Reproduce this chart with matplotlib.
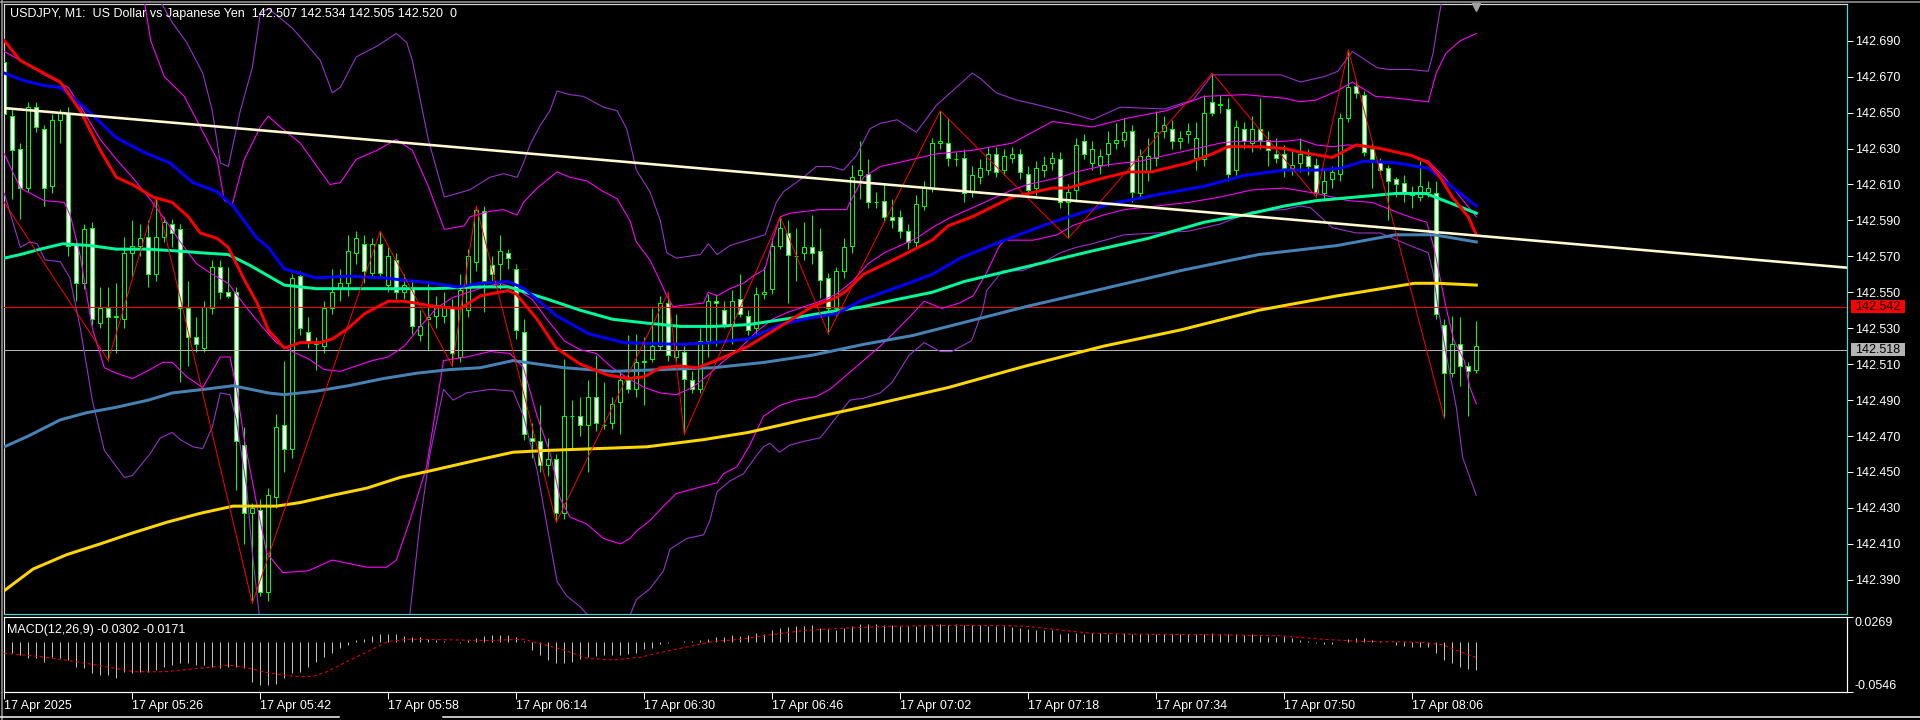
import numpy as np
import matplotlib
matplotlib.use("Agg")
import matplotlib.pyplot as plt
from matplotlib.patches import Rectangle
from matplotlib.lines import Line2D
from matplotlib.transforms import blended_transform_factory

plt.rcParams["font.family"] = ["Liberation Sans", "DejaVu Sans"]

# ---------------- USDJPY M1 bars, 17 Apr 05:10 .. 08:14 ----------------
opens = [
    142.678, 142.648, 142.630, 142.608, 142.653, 142.641, 142.609, 142.646, 142.650, 142.577,
    142.555, 142.586, 142.533, 142.541, 142.537, 142.535, 142.572, 142.576, 142.581, 142.560,
    142.581, 142.588, 142.585, 142.541, 142.525, 142.519, 142.541, 142.564, 142.550, 142.550,
    142.465, 142.427, 142.429, 142.383, 142.436, 142.476, 142.463, 142.559, 142.528, 142.522,
    142.520, 142.541, 142.552, 142.555, 142.572, 142.577, 142.561, 142.577, 142.554, 142.568,
    142.550, 142.552, 142.526, 142.535, 142.537, 142.537, 142.542, 142.514, 142.540, 142.567,
    142.595, 142.565, 142.566, 142.572, 142.563, 142.528, 142.469, 142.467, 142.454, 142.457,
    142.427, 142.481, 142.481, 142.476, 142.492, 142.476, 142.477, 142.489, 142.501, 142.496,
    142.511, 142.513, 142.520, 142.544, 142.514, 142.517, 142.501, 142.496, 142.523, 142.545,
    142.540, 142.532, 142.546, 142.537, 142.530, 142.549, 142.552, 142.576, 142.583, 142.570,
    142.572, 142.575, 142.573, 142.558, 142.541, 142.562, 142.576, 142.615, 142.616, 142.600,
    142.601, 142.592, 142.592, 142.584, 142.578, 142.598, 142.608, 142.633, 142.633, 142.624,
    142.625, 142.606, 142.614, 142.618, 142.627, 142.618, 142.625, 142.627, 142.616, 142.608,
    142.618, 142.622, 142.624, 142.600, 142.607, 142.634, 142.622, 142.621, 142.627, 142.633,
    142.635, 142.640, 142.605, 142.617, 142.625, 142.640, 142.641, 142.634, 142.638, 142.625,
    142.624, 142.656, 142.655, 142.652, 142.618, 142.641, 142.633, 142.641, 142.635, 142.627,
    142.627, 142.619, 142.622, 142.626, 142.621, 142.605, 142.613, 142.616, 142.647, 142.665,
    142.660, 142.630, 142.623, 142.619, 142.613, 142.611, 142.605, 142.603, 142.606, 142.605,
    142.532, 142.505, 142.521, 142.509, 142.507,
]
highs = [
    142.681, 142.652, 142.633, 142.656, 142.656, 142.643, 142.649, 142.652, 142.653, 142.580,
    142.588, 142.589, 142.553, 142.553, 142.555, 142.581, 142.590, 142.588, 142.590, 142.603,
    142.592, 142.591, 142.588, 142.556, 142.536, 142.545, 142.568, 142.568, 142.564, 142.553,
    142.475, 142.433, 142.435, 142.441, 142.482, 142.512, 142.560, 142.562, 142.536, 142.525,
    142.545, 142.563, 142.563, 142.582, 142.584, 142.582, 142.580, 142.584, 142.575, 142.572,
    142.560, 142.556, 142.540, 142.555, 142.548, 142.550, 142.546, 142.560, 142.574, 142.598,
    142.598, 142.570, 142.582, 142.574, 142.566, 142.535, 142.477, 142.487, 142.469, 142.460,
    142.513, 142.490, 142.492, 142.501, 142.515, 142.500, 142.492, 142.506, 142.526, 142.527,
    142.525, 142.541, 142.548, 142.550, 142.538, 142.520, 142.506, 142.530, 142.549, 142.549,
    142.545, 142.551, 142.560, 142.540, 142.553, 142.564, 142.580, 142.592, 142.590, 142.586,
    142.589, 142.593, 142.586, 142.561, 142.564, 142.580, 142.621, 142.634, 142.624, 142.606,
    142.610, 142.602, 142.596, 142.588, 142.604, 142.612, 142.636, 142.651, 142.647, 142.628,
    142.630, 142.620, 142.624, 142.631, 142.631, 142.630, 142.631, 142.630, 142.620, 142.623,
    142.626, 142.628, 142.628, 142.610, 142.636, 142.638, 142.634, 142.630, 142.640, 142.644,
    142.647, 142.643, 142.630, 142.636, 142.651, 142.648, 142.646, 142.640, 142.644, 142.645,
    142.660, 142.672, 142.660, 142.658, 142.646, 142.645, 142.648, 142.658, 142.640, 142.636,
    142.632, 142.630, 142.636, 142.630, 142.625, 142.618, 142.620, 142.650, 142.685, 142.668,
    142.662, 142.633, 142.625, 142.621, 142.614, 142.615, 142.609, 142.623, 142.612, 142.612,
    142.535, 142.537, 142.536, 142.511, 142.534,
]
lows = [
    142.646, 142.602, 142.591, 142.606, 142.639, 142.598, 142.605, 142.633, 142.570, 142.545,
    142.552, 142.532, 142.530, 142.512, 142.516, 142.530, 142.559, 142.570, 142.553, 142.556,
    142.578, 142.575, 142.500, 142.509, 142.517, 142.517, 142.538, 142.546, 142.547, 142.440,
    142.410, 142.377, 142.381, 142.378, 142.430, 142.450, 142.458, 142.526, 142.519, 142.507,
    142.516, 142.538, 142.545, 142.548, 142.566, 142.555, 142.558, 142.558, 142.550, 142.546,
    142.546, 142.527, 142.523, 142.518, 142.530, 142.533, 142.509, 142.511, 142.536, 142.562,
    142.539, 142.556, 142.552, 142.563, 142.524, 142.468, 142.458, 142.450, 142.448, 142.422,
    142.424, 142.463, 142.470, 142.450, 142.473, 142.474, 142.474, 142.471, 142.494, 142.492,
    142.487, 142.511, 142.518, 142.512, 142.512, 142.471, 142.494, 142.494, 142.514, 142.520,
    142.530, 142.521, 142.536, 142.526, 142.527, 142.546, 142.549, 142.574, 142.544, 142.556,
    142.568, 142.566, 142.547, 142.527, 142.537, 142.558, 142.572, 142.602, 142.597, 142.597,
    142.589, 142.586, 142.580, 142.574, 142.575, 142.596, 142.606, 142.630, 142.620, 142.620,
    142.600, 142.603, 142.610, 142.615, 142.614, 142.615, 142.622, 142.613, 142.604, 142.604,
    142.614, 142.618, 142.597, 142.580, 142.600, 142.624, 142.618, 142.616, 142.620, 142.630,
    142.631, 142.600, 142.602, 142.612, 142.620, 142.636, 142.630, 142.630, 142.633, 142.618,
    142.620, 142.648, 142.650, 142.612, 142.615, 142.630, 142.628, 142.630, 142.620, 142.622,
    142.614, 142.615, 142.617, 142.615, 142.603, 142.601, 142.608, 142.612, 142.645, 142.658,
    142.626, 142.608, 142.616, 142.590, 142.603, 142.600, 142.597, 142.601, 142.603, 142.535,
    142.480, 142.503, 142.498, 142.481, 142.505,
]
closes = [
    142.649, 142.629, 142.608, 142.653, 142.642, 142.608, 142.646, 142.650, 142.576, 142.555,
    142.585, 142.535, 142.541, 142.536, 142.536, 142.572, 142.576, 142.580, 142.560, 142.581,
    142.589, 142.583, 142.541, 142.525, 142.521, 142.542, 142.564, 142.550, 142.548, 142.467,
    142.427, 142.430, 142.383, 142.437, 142.475, 142.463, 142.558, 142.530, 142.522, 142.521,
    142.541, 142.550, 142.555, 142.573, 142.580, 142.562, 142.577, 142.561, 142.570, 142.550,
    142.554, 142.531, 142.531, 142.536, 142.543, 142.542, 142.516, 142.551, 142.570, 142.596,
    142.556, 142.560, 142.573, 142.569, 142.529, 142.471, 142.467, 142.454, 142.457, 142.427,
    142.481, 142.481, 142.476, 142.492, 142.477, 142.476, 142.488, 142.501, 142.496, 142.511,
    142.512, 142.520, 142.544, 142.515, 142.518, 142.502, 142.496, 142.523, 142.545, 142.544,
    142.532, 142.545, 142.538, 142.529, 142.549, 142.550, 142.576, 142.586, 142.571, 142.570,
    142.575, 142.572, 142.557, 142.541, 142.562, 142.575, 142.614, 142.618, 142.600, 142.600,
    142.592, 142.590, 142.584, 142.578, 142.599, 142.608, 142.633, 142.634, 142.625, 142.624,
    142.605, 142.615, 142.619, 142.627, 142.617, 142.626, 142.627, 142.617, 142.607, 142.619,
    142.621, 142.625, 142.600, 142.606, 142.632, 142.627, 142.630, 142.626, 142.633, 142.635,
    142.639, 142.606, 142.626, 142.626, 142.639, 142.643, 142.634, 142.636, 142.640, 142.636,
    142.650, 142.650, 142.654, 142.616, 142.642, 142.634, 142.641, 142.635, 142.629, 142.625,
    142.619, 142.621, 142.627, 142.620, 142.606, 142.612, 142.617, 142.647, 142.664, 142.661,
    142.628, 142.624, 142.618, 142.612, 142.610, 142.605, 142.604, 142.609, 142.608, 142.538,
    142.505, 142.521, 142.509, 142.506, 142.520,
]

# ---------------- moving averages (bar index, price) ----------------
ema_red_x = [0, 2, 4.5, 7, 9.5, 12, 14, 16, 18.6, 21, 23, 24.5, 26.6, 28, 30, 31.6, 33, 35, 37, 39.5,
             41, 43, 45, 48, 50, 54, 57, 59.5, 63, 64, 66.6, 69, 72, 75.4, 78, 80, 82, 84.5, 86.6, 89,
             93, 97, 101, 104, 105.3, 107.4, 111.6, 116, 118, 121, 126, 131, 133, 136, 140.5, 143.4,
             148, 151, 153, 157, 160, 162, 166, 169, 172, 176, 178, 179.5, 181, 183, 184]
ema_red_y = [142.690, 142.679, 142.673, 142.667, 142.651, 142.629, 142.614, 142.610, 142.603, 142.600,
             142.592, 142.583, 142.580, 142.575, 142.557, 142.544, 142.529, 142.519, 142.522, 142.522,
             142.524, 142.530, 142.538, 142.545, 142.545, 142.542, 142.541, 142.548, 142.551, 142.549,
             142.535, 142.519, 142.510, 142.504, 142.502, 142.503, 142.508, 142.509, 142.508, 142.512,
             142.520, 142.531, 142.542, 142.547, 142.551, 142.560, 142.569, 142.579, 142.587, 142.592,
             142.603, 142.608, 142.608, 142.612, 142.617, 142.617, 142.622, 142.627, 142.631, 142.631,
             142.630, 142.628, 142.625, 142.632, 142.630, 142.626, 142.622, 142.614, 142.603, 142.592,
             142.582]
ema_blue_x = [0, 2.3, 5, 7, 10, 14, 17.4, 20.7, 23.6, 26.6, 28.6, 31.6, 33, 35, 39, 43, 47.4, 53.6,
              56.6, 59.5, 63, 65, 69, 73, 77.4, 84.5, 88.6, 93, 97, 101, 104, 107.4, 113, 116, 119.5,
              125, 131, 138, 145, 150, 155, 160, 164, 167, 170, 174, 178, 180, 182, 184]
ema_blue_y = [142.672, 142.668, 142.665, 142.664, 142.653, 142.636, 142.628, 142.622, 142.611, 142.606,
              142.598, 142.580, 142.575, 142.563, 142.558, 142.559, 142.558, 142.555, 142.553, 142.555,
              142.556, 142.552, 142.537, 142.527, 142.522, 142.521, 142.522, 142.524, 142.532, 142.536,
              142.538, 142.546, 142.555, 142.560, 142.569, 142.579, 142.589, 142.599, 142.605, 142.609,
              142.615, 142.618, 142.618, 142.619, 142.623, 142.622, 142.619, 142.612, 142.605, 142.598]
ema_green_x = [0, 2, 4.5, 7.3, 10.7, 14, 18, 21.6, 24.5, 28, 30.7, 35, 39, 43, 49.5, 53.6, 59.5, 63,
               68, 72, 76, 80, 84.5, 88.6, 93, 96, 99, 103, 107.4, 111.6, 116, 120, 128.5, 136, 143,
               150, 155, 160, 164, 169, 174, 177.7, 180, 184]
ema_green_y = [142.569, 142.571, 142.574, 142.577, 142.576, 142.574, 142.574, 142.573, 142.572, 142.571,
               142.565, 142.554, 142.552, 142.552, 142.552, 142.552, 142.553, 142.553, 142.546, 142.540,
               142.535, 142.533, 142.531, 142.531, 142.532, 142.534, 142.536, 142.539, 142.542, 142.546,
               142.550, 142.556, 142.565, 142.573, 142.580, 142.589, 142.593, 142.598, 142.601, 142.603,
               142.605, 142.605, 142.601, 142.594]
ema_steel_x = [0, 3, 7, 10.3, 14, 18, 21, 25, 28.6, 33, 35, 39, 43, 47.4, 51.6, 55.7, 59.5, 63.6, 70,
               76, 82.3, 88.6, 95, 101, 107.4, 113.6, 118, 127.7, 137.4, 147, 156.8, 166.6, 173.9,
               178.7, 184]
ema_steel_y = [142.464, 142.470, 142.479, 142.483, 142.486, 142.490, 142.494, 142.496, 142.498, 142.494,
               142.493, 142.495, 142.498, 142.502, 142.505, 142.507, 142.508, 142.512, 142.508, 142.506,
               142.507, 142.508, 142.511, 142.515, 142.521, 142.526, 142.531, 142.542, 142.552, 142.562,
               142.571, 142.576, 142.582, 142.582, 142.578]
ema_gold_x = [0, 3.6, 7.8, 12, 16, 20.3, 24.5, 28.6, 34, 37, 41, 45.3, 49.5, 53.6, 59.5, 63.6, 67.8,
              74, 80.3, 87.4, 93, 99.9, 108.2, 118, 127.7, 137.4, 147, 156.8, 166.6, 176.3, 179.2, 184]
ema_gold_y = [142.384, 142.396, 142.404, 142.410, 142.416, 142.422, 142.427, 142.431, 142.431, 142.433,
              142.437, 142.441, 142.447, 142.451, 142.457, 142.461, 142.462, 142.463, 142.464, 142.468,
              142.472, 142.479, 142.487, 142.497, 142.509, 142.520, 142.529, 142.540, 142.548, 142.555,
              142.555, 142.554]

# ---------------- Bollinger bands ----------------
bb_mid_x = [0, 2, 5, 8] + list(range(10, 185, 2))
bb_mid_y = [142.684, 142.679, 142.671, 142.664,
            142.650, 142.635, 142.624, 142.614, 142.603, 142.591, 142.578, 142.566, 142.560, 142.555,
            142.543, 142.532, 142.522, 142.517, 142.513, 142.507, 142.506, 142.509, 142.512, 142.514,
            142.520, 142.531, 142.541, 142.547, 142.550, 142.553, 142.555, 142.552, 142.546, 142.534,
            142.523, 142.518, 142.516, 142.508, 142.502, 142.497, 142.494, 142.493, 142.497, 142.504,
            142.512, 142.519, 142.528, 142.535, 142.539, 142.542, 142.545, 142.549, 142.556, 142.566,
            142.572, 142.576, 142.580, 142.586, 142.591, 142.595, 142.599, 142.603, 142.607, 142.610,
            142.612, 142.614, 142.617, 142.619, 142.621, 142.622, 142.623, 142.625, 142.627, 142.629,
            142.631, 142.633, 142.634, 142.634, 142.634, 142.634, 142.635, 142.632, 142.631, 142.632,
            142.631, 142.630, 142.628, 142.626, 142.623, 142.614, 142.603, 142.592]
bb2_up_x = [0, 4, 8, 10, 12, 15, 17.5, 18.3, 20, 22.5, 24.5, 26.6, 27.5, 28.5, 30, 32, 33, 34.5, 37, 40.7,
            42, 44, 46.6, 49, 51, 53, 55, 57.5, 58.2, 60.7, 62.4, 64.1, 64.9, 66.6, 69.1, 70.7, 72.8,
            74.9, 76.6, 78.2, 79, 80.7, 82, 82.8, 83.6, 85.3, 87.4, 88, 89.1, 90.7, 92.4, 93.6, 95.1,
            96.1, 97, 98.2, 102, 105.3, 105.7, 107.4, 109.5, 111.6, 116.5, 121, 126, 131, 136, 140.5,
            145.2, 150, 155, 160, 162, 164, 166.6, 168.5, 171.4, 174, 178, 179, 180.2, 182, 184]
bb2_up_y = [142.741, 142.742, 142.738, 142.750, 142.755, 142.735, 142.712, 142.690, 142.670, 142.659,
            142.642, 142.624, 142.601, 142.599, 142.624, 142.642, 142.648, 142.642, 142.633, 142.610,
            142.611, 142.624, 142.629, 142.635, 142.629, 142.609, 142.585, 142.587, 142.592, 142.595,
            142.596, 142.593, 142.600, 142.608, 142.617, 142.614, 142.612, 142.606, 142.602, 142.590,
            142.578, 142.568, 142.556, 142.548, 142.542, 142.543, 142.544, 142.550, 142.548, 142.552,
            142.555, 142.559, 142.563, 142.580, 142.592, 142.594, 142.596, 142.596, 142.600, 142.614,
            142.620, 142.622, 142.627, 142.629, 142.633, 142.645, 142.642, 142.647, 142.651, 142.659,
            142.660, 142.658, 142.656, 142.657, 142.662, 142.667, 142.659, 142.658, 142.656, 142.672,
            142.683, 142.690, 142.694]
bb2_lo_x = [0, 2, 5, 7.5, 8.3, 9.5, 11, 12.5, 14, 16, 17.8, 19.8, 21, 22.8, 24.8, 27, 28.2, 29, 30, 31.6,
            32.8, 34.8, 38, 41, 45.3, 47.8, 49, 50.7, 52.8, 54.9, 57.8, 60.7, 63.2, 64.9, 66.6, 68.2,
            69.5, 70.7, 72.8, 74.9, 77, 78.2, 79, 80.7, 82.4, 84, 86.5, 89.1, 89.9, 91.6, 93.2, 94.9,
            96.9, 99, 101.5, 103.2, 105.3, 107.4, 109.5, 111.1, 113.1, 115, 117.2, 119.4, 121.1, 122.8,
            124.3, 125, 128.6, 131.6, 133.5, 135.4, 137.4, 140, 144, 148, 152, 156, 160, 164, 168, 171,
            174.4, 176.3, 177.8, 178.7, 180.2, 181.2, 182.5, 183.2, 184]
bb2_lo_y = [142.627, 142.608, 142.601, 142.600, 142.592, 142.570, 142.530, 142.508, 142.505, 142.502,
            142.506, 142.511, 142.511, 142.503, 142.497, 142.514, 142.514, 142.497, 142.468, 142.431,
            142.405, 142.394, 142.395, 142.401, 142.397, 142.397, 142.401, 142.423, 142.453, 142.512,
            142.514, 142.517, 142.516, 142.508, 142.481, 142.461, 142.435, 142.425, 142.421, 142.413,
            142.410, 142.413, 142.417, 142.423, 142.431, 142.438, 142.441, 142.444, 142.449, 142.453,
            142.465, 142.481, 142.487, 142.490, 142.492, 142.496, 142.504, 142.512, 142.520, 142.527,
            142.536, 142.545, 142.541, 142.544, 142.548, 142.561, 142.575, 142.579, 142.579, 142.582,
            142.587, 142.590, 142.593, 142.596, 142.598, 142.600, 142.603, 142.607, 142.608, 142.605,
            142.601, 142.600, 142.594, 142.591, 142.589, 142.575, 142.542, 142.523, 142.512, 142.497,
            142.488]
bb3_up_x = [0, 8, 12, 16, 19.5, 21, 22.8, 24.8, 26, 27, 28, 29.5, 31, 32, 33, 36, 37, 39.5, 41, 42, 44,
            46.6, 49, 50.3, 51, 53, 55, 58.2, 60.7, 62.4, 64.1, 64.9, 65.7, 67, 68.2, 69.1, 70.7, 72.4,
            74.9, 76.6, 77.8, 78.6, 79, 80.7, 82, 82.8, 84, 87, 88, 89.1, 90.7, 93.6, 95.1, 96.5, 97.4,
            99.9, 101.5, 103.2, 104.9, 106.5, 108.2, 109.5, 111.6, 114, 116.5, 119, 121, 122, 124, 126.5,
            128.5, 133, 136, 139.5, 145, 148.6, 151, 155, 159.6, 162, 165, 166.7, 168.5, 171.6, 173,
            175.7, 178, 178.6, 179.2, 180, 182, 184]
bb3_up_y = [142.770, 142.775, 142.815, 142.780, 142.712, 142.700, 142.689, 142.672, 142.651, 142.622,
            142.620, 142.651, 142.675, 142.705, 142.708, 142.697, 142.692, 142.679, 142.661, 142.664,
            142.681, 142.687, 142.694, 142.689, 142.679, 142.635, 142.603, 142.607, 142.614, 142.616,
            142.614, 142.622, 142.632, 142.643, 142.651, 142.662, 142.660, 142.659, 142.653, 142.651,
            142.641, 142.626, 142.618, 142.606, 142.590, 142.572, 142.569, 142.571, 142.577, 142.571,
            142.576, 142.580, 142.582, 142.600, 142.606, 142.614, 142.620, 142.620, 142.618, 142.626,
            142.641, 142.644, 142.646, 142.639, 142.654, 142.664, 142.672, 142.669, 142.661, 142.657,
            142.655, 142.650, 142.646, 142.653, 142.652, 142.657, 142.671, 142.671, 142.671, 142.667,
            142.670, 142.673, 142.684, 142.675, 142.674, 142.674, 142.673, 142.683, 142.700, 142.720,
            142.740, 142.745]
bb3_lo_x = [0, 2, 3.2, 4.1, 5.1, 7, 8.2, 9.5, 11, 12.5, 14, 15, 16, 18.2, 19.5, 21, 22, 23.6, 24.8, 26,
            27, 28.2, 29, 30.3, 31, 31.7, 33, 36, 40, 45, 48, 50, 50.7, 52, 53.2, 54.9, 56.1, 57.8, 60.7,
            63.6, 64.9, 66.6, 67.8, 69.1, 70.3, 72, 73.2, 75, 77, 78.2, 79, 80.7, 82.4, 83.2, 85.3, 87.4,
            88.2, 89.1, 90.7, 92.4, 94, 94.9, 95.7, 96.9, 98.2, 99.9, 102, 104.1, 105.7, 107.4, 109.5,
            111, 113.1, 115, 117, 118.4, 120.9, 122.3, 122.8, 124.8, 127.2, 129.6, 132, 134, 136, 140,
            144, 148, 152, 156, 160, 162, 163.3, 166, 169, 172, 175.7, 178, 178.6, 179.2, 180.3, 181.5,
            182.3, 184]
bb3_lo_y = [142.605, 142.575, 142.578, 142.577, 142.568, 142.567, 142.558, 142.530, 142.490, 142.462,
            142.453, 142.447, 142.448, 142.460, 142.469, 142.472, 142.468, 142.464, 142.463, 142.475,
            142.494, 142.493, 142.479, 142.441, 142.405, 142.377, 142.330, 142.300, 142.290, 142.290,
            142.310, 142.345, 142.371, 142.423, 142.460, 142.496, 142.490, 142.494, 142.496, 142.495,
            142.481, 142.451, 142.421, 142.389, 142.381, 142.375, 142.369, 142.360, 142.362, 142.370,
            142.379, 142.385, 142.395, 142.407, 142.413, 142.415, 142.423, 142.439, 142.445, 142.449,
            142.459, 142.464, 142.466, 142.461, 142.465, 142.467, 142.469, 142.481, 142.490, 142.491,
            142.494, 142.500, 142.515, 142.522, 142.517, 142.517, 142.523, 142.540, 142.551, 142.562,
            142.562, 142.566, 142.572, 142.575, 142.577, 142.582, 142.583, 142.584, 142.588, 142.595,
            142.596, 142.598, 142.597, 142.586, 142.583, 142.583, 142.576, 142.572, 142.561, 142.542,
            142.514, 142.486, 142.458, 142.437]

# ---------------- ZigZag, trend line, levels ----------------
zz_x = [-4, 13, 19, 31, 47, 56, 59, 69, 83, 85, 97, 103, 117, 133, 151, 164, 168, 180]
zz_y = [142.627, 142.512, 142.603, 142.377, 142.584, 142.509, 142.598, 142.422, 142.550, 142.471,
        142.592, 142.527, 142.651, 142.580, 142.672, 142.603, 142.685, 142.480]
trend_x = [0, 230.3]
trend_y = [142.6525, 142.5637]
level_red = 142.542
level_bid = 142.518

# ---------------- MACD(12,26,9) ----------------
macd_main = [
    -0.0130, -0.0125, -0.0143, -0.0180, -0.0180, -0.0217, -0.0162, -0.0180, -0.0198, -0.0271,
    -0.0289, -0.0344, -0.0363, -0.0363, -0.0399, -0.0326, -0.0344, -0.0326, -0.0326, -0.0308,
    -0.0271, -0.0253, -0.0235, -0.0235, -0.0253, -0.0253, -0.0271, -0.0289, -0.0271, -0.0271,
    -0.0289, -0.0436, -0.0472, -0.0472, -0.0454, -0.0399, -0.0344, -0.0326, -0.0271, -0.0217,
    -0.0162, -0.0118, -0.0071, -0.0034, 0.0021, 0.0028, 0.0065, 0.0083, 0.0087, 0.0083,
    0.0065, 0.0057, 0.0050, 0.0028, 0.0017, 0.0003, -0.0004, -0.0015, 0.0014, 0.0046,
    0.0065, 0.0076, 0.0076, 0.0076, 0.0050, 0.0003, -0.0089, -0.0143, -0.0198, -0.0235,
    -0.0228, -0.0217, -0.0191, -0.0169, -0.0154, -0.0143, -0.0143, -0.0143, -0.0132, -0.0118,
    -0.0081, -0.0064, -0.0028, -0.0017, -0.0008, 0.0003, 0.0006, 0.0015, 0.0028, 0.0050,
    0.0057, 0.0076, 0.0065, 0.0076, 0.0094, 0.0087, 0.0130, 0.0148, 0.0156, 0.0167,
    0.0174, 0.0178, 0.0148, 0.0138, 0.0130, 0.0148, 0.0174, 0.0196, 0.0196, 0.0196,
    0.0185, 0.0185, 0.0167, 0.0167, 0.0174, 0.0185, 0.0185, 0.0196, 0.0185, 0.0196,
    0.0185, 0.0185, 0.0178, 0.0174, 0.0167, 0.0167, 0.0159, 0.0148, 0.0138, 0.0130,
    0.0130, 0.0123, 0.0087, 0.0094, 0.0094, 0.0087, 0.0094, 0.0094, 0.0087, 0.0080,
    0.0094, 0.0083, 0.0083, 0.0080, 0.0080, 0.0080, 0.0087, 0.0080, 0.0080, 0.0083,
    0.0080, 0.0094, 0.0083, 0.0080, 0.0080, 0.0076, 0.0080, 0.0065, 0.0057, 0.0057,
    0.0065, 0.0039, 0.0021, 0.0003, -0.0015, -0.0023, -0.0023, -0.0008, 0.0028, 0.0039,
    0.0039, 0.0021, 0.0003, -0.0004, -0.0034, -0.0045, -0.0052, -0.0059, -0.0059, -0.0118,
    -0.0198, -0.0235, -0.0271, -0.0300, -0.0302,
]
macd_sig_x = [0, 4.6, 7, 9.7, 12.7, 16.3, 20, 23, 26, 28, 30, 32.6, 35, 37, 38.7, 40.3, 42.8, 45.4, 48,
              50.5, 55.6, 60.7, 64.8, 66.8, 69.9, 72.9, 76, 79.5, 82.5, 85.6, 88.6, 92.2, 94.8, 100,
              105, 110, 115, 120, 125.4, 128, 130.5, 135.6, 140.7, 145.8, 150.9, 159.5, 164.6, 169.7,
              175, 177.3, 179.9, 181.9, 184]
macd_sig_y = [-0.0125, -0.0162, -0.0191, -0.0227, -0.0271, -0.0326, -0.0326, -0.0300, -0.0275, -0.0255,
              -0.0275, -0.0330, -0.0363, -0.0381, -0.0374, -0.0326, -0.0217, -0.0107, 0.0003, 0.0028,
              0.0021, 0.0014, 0.0028, -0.0015, -0.0089, -0.0180, -0.0198, -0.0169, -0.0107, -0.0052,
              0.0003, 0.0028, 0.0065, 0.0123, 0.0148, 0.0167, 0.0174, 0.0178, 0.0174, 0.0167, 0.0141,
              0.0094, 0.0083, 0.0080, 0.0076, 0.0065, 0.0028, 0.0003, -0.0001, -0.0008, -0.0034,
              -0.0107, -0.0171]

price_ticks = [142.390, 142.410, 142.430, 142.450, 142.470, 142.490, 142.510, 142.530,
               142.550, 142.570, 142.590, 142.610, 142.630, 142.650, 142.670, 142.690]
time_ticks = [0, 16, 32, 48, 64, 80, 96, 112, 128, 144, 160, 176]
time_labels = ["17 Apr 2025", "17 Apr 05:26", "17 Apr 05:42", "17 Apr 05:58", "17 Apr 06:14",
               "17 Apr 06:30", "17 Apr 06:46", "17 Apr 07:02", "17 Apr 07:18", "17 Apr 07:34",
               "17 Apr 07:50", "17 Apr 08:06"]
header = "USDJPY, M1:  US Dollar vs Japanese Yen  142.507 142.534 142.505 142.520  0"
macd_header = "MACD(12,26,9) -0.0302 -0.0171"

# ---------------- figure ----------------
W, H = 1920, 720
PX = 0.72  # one pixel in points at dpi 100
fig = plt.figure(figsize=(W / 100, H / 100), dpi=100, facecolor="black")

ax = fig.add_axes([4 / W, 1 - 614 / H, 1843 / W, 610 / H], facecolor="black")
ax2 = fig.add_axes([4 / W, 1 - 692 / H, 1843 / W, 75 / H], facecolor="black")

ax.set_xlim(-0.04, 230.34)
ax.set_ylim(142.37097, 142.71042)
ax2.set_xlim(-0.04, 230.34)
ax2.set_ylim(-0.0546, 0.0269)

idx = np.arange(len(opens))
o = np.array(opens)
c = np.array(closes)
bottoms = np.minimum(o, c)
heights = np.maximum(np.abs(c - o), 0.0003)
fills = ["white" if cc < oo else "black" for oo, cc in zip(opens, closes)]

ax.vlines(idx, lows, highs, colors="#00FF00", linewidth=PX, zorder=2)
ax.bar(idx, heights, bottom=bottoms, width=0.5, color=fills, edgecolor="#00FF00",
       linewidth=PX, zorder=3)

ax.axhline(level_red, color="#FF0000", lw=PX, zorder=4)
ax.axhline(level_bid, color="#B4B4B4", lw=PX, zorder=4)

for xs, ys in [(bb3_up_x, bb3_up_y), (bb3_lo_x, bb3_lo_y)]:
    ax.plot(xs, ys, color="#9932CC", lw=PX * 1.1, zorder=5)
for xs, ys in [(bb2_up_x, bb2_up_y), (bb2_lo_x, bb2_lo_y), (bb_mid_x, bb_mid_y)]:
    ax.plot(xs, ys, color="#FF00FF", lw=PX * 1.1, zorder=5)

ax.plot(ema_gold_x, ema_gold_y, color="#FFD700", lw=3 * PX, zorder=6)
ax.plot(ema_steel_x, ema_steel_y, color="#4682B4", lw=3 * PX, zorder=6)
ax.plot(ema_green_x, ema_green_y, color="#00FA9A", lw=3 * PX, zorder=6)
ax.plot(ema_blue_x, ema_blue_y, color="#0000FF", lw=3 * PX, zorder=6)
ax.plot(ema_red_x, ema_red_y, color="#FF0000", lw=3 * PX, zorder=7)
ax.plot(zz_x, zz_y, color="#FF0000", lw=PX, zorder=8)
ax.plot(trend_x, trend_y, color="#FFFAD2", lw=2.6 * PX, zorder=8)

# chart-shift marker
ax.plot([184], [142.7086], marker="v", ms=6, color="#A0A0A0", mec="#A0A0A0", zorder=9, clip_on=False)

# header text
ax.text(0.0035, 0.993, header, transform=ax.transAxes, color="white", fontsize=9,
        ha="left", va="top", zorder=10)

# price axis
ax.yaxis.tick_right()
ax.set_yticks(price_ticks)
ax.set_yticklabels([f"{p:.3f}" for p in price_ticks])
ax.tick_params(axis="y", colors="white", length=4, width=PX, pad=1.5, labelsize=9)
ax.set_xticks([])

bt = blended_transform_factory(ax.transAxes, ax.transData)
box_x0 = (1851 - 4) / 1843
box_w = 54 / 1843
for lvl, col in [(level_red, "#FF0000"), (level_bid, "#B4B4B4")]:
    ax.add_patch(Rectangle((box_x0, lvl - 0.0037), box_w, 0.0074, transform=bt,
                           facecolor=col, edgecolor="none", clip_on=False, zorder=10))
    ax.text(box_x0 + box_w / 2, lvl, f"{lvl:.3f}", transform=bt, color="black", fontsize=9,
            ha="center", va="center", clip_on=False, zorder=11)

for side in ["top", "left"]:
    ax.spines[side].set_color("#D8D8D8")
for side in ["right", "bottom"]:
    ax.spines[side].set_color("#48D8D8")
for sp in ax.spines.values():
    sp.set_linewidth(PX * 1.2)

# MACD panel
ax2.vlines(idx, 0, macd_main, colors="#C0C0C0", linewidth=PX, zorder=2)
ax2.plot(macd_sig_x, macd_sig_y, color="#FF0000", lw=PX, linestyle=(0, (3, 3)), zorder=3)
ax2.text(0.0017, 0.90, macd_header, transform=ax2.transAxes, color="white", fontsize=9,
         ha="left", va="top")
ax2.yaxis.tick_right()
ax2.set_yticks([-0.0546, 0.0269])
ax2.set_yticklabels(["-0.0546", "0.0269"])
ax2.tick_params(axis="y", colors="white", length=4, width=PX, pad=1.5, labelsize=9)
ylabs = ax2.get_yticklabels()
ylabs[0].set_va("bottom")
ylabs[1].set_va("top")
ax2.set_xticks(time_ticks)
ax2.set_xticklabels(time_labels, ha="left")
ax2.tick_params(axis="x", colors="white", length=5, width=PX, pad=1, labelsize=9)
for sp in ax2.spines.values():
    sp.set_color("white")
    sp.set_linewidth(PX * 1.2)

# window frame lines
fig.add_artist(Line2D([0, 1], [1 - 1.5 / H, 1 - 1.5 / H], color="#A0A0A0", lw=PX * 1.5))
fig.add_artist(Line2D([1.5 / W, 1.5 / W], [0, 1], color="#A0A0A0", lw=PX * 1.5))
fig.add_artist(Line2D([0, 339 / W], [1 - 717 / H, 1 - 717 / H], color="white", lw=PX * 1.5))
fig.add_artist(Line2D([443 / W, 1], [1 - 717 / H, 1 - 717 / H], color="white", lw=PX * 1.5))

fig.savefig("out.png", dpi=100, facecolor="black")
